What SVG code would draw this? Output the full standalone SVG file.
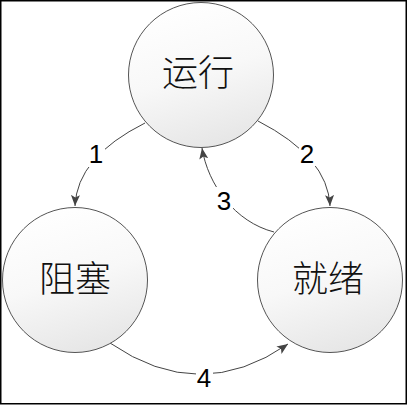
<svg xmlns="http://www.w3.org/2000/svg" width="407" height="405" viewBox="0 0 407 405">
<style>
.node circle{fill:url(#g);stroke:#555;stroke-width:1}
.node text{font-family:"Noto Sans CJK SC","Noto Sans CJK JP",sans-serif;font-size:36px;fill:#111;text-anchor:middle;font-weight:300}
.conn path{fill:none;stroke:#444;stroke-width:1;marker-end:url(#ah)}
.lbl rect{fill:#fff}
.lbl text{font-family:"Liberation Sans",Arial,sans-serif;font-size:26px;fill:#000;text-anchor:middle}
</style>
<defs>
<linearGradient id="g" x1="0.3" y1="0" x2="0.6" y2="1">
<stop offset="0" stop-color="#ffffff"/>
<stop offset="0.5" stop-color="#f8f8f8"/>
<stop offset="1" stop-color="#e6e6e6"/>
</linearGradient>
<marker id="ah" markerUnits="userSpaceOnUse" markerWidth="12" markerHeight="10" refX="11" refY="4.5" orient="auto">
<path d="M0,0 L11,4.5 L0,9 L2.5,4.5 Z" fill="#444"/>
</marker>
</defs>
<rect x="0.75" y="0.75" width="405.5" height="403" fill="#fff" stroke="#000" stroke-width="1.5"/>
<g id="connectors" class="conn">
<path d="M145,123 Q77,157 75,206"/>
<path d="M258,121 Q328,157 330,206"/>
<path d="M274,232 C235,222 208,185 202,148"/>
<path d="M110,343 Q200,405 288,344"/>
</g>
<g class="lbl">
<g id="label1"><rect x="88" y="141" width="17" height="26"/><text x="96" y="163">1</text></g>
<g id="label2"><rect x="299" y="140" width="17" height="26"/><text x="307" y="163">2</text></g>
<g id="label3"><rect x="216" y="187" width="17" height="26"/><text x="224" y="210">3</text></g>
<g id="label4"><rect x="196" y="366" width="17" height="24"/><text x="204" y="387">4</text></g>
</g>
<g id="node-running" class="node"><circle cx="201" cy="75" r="72.5"/><text x="198" y="86">运行</text></g>
<g id="node-blocked" class="node"><circle cx="75" cy="280" r="72.5"/><text x="75" y="292">阻塞</text></g>
<g id="node-ready" class="node"><circle cx="330" cy="280" r="72.5"/><text x="328" y="292">就绪</text></g>
</svg>
